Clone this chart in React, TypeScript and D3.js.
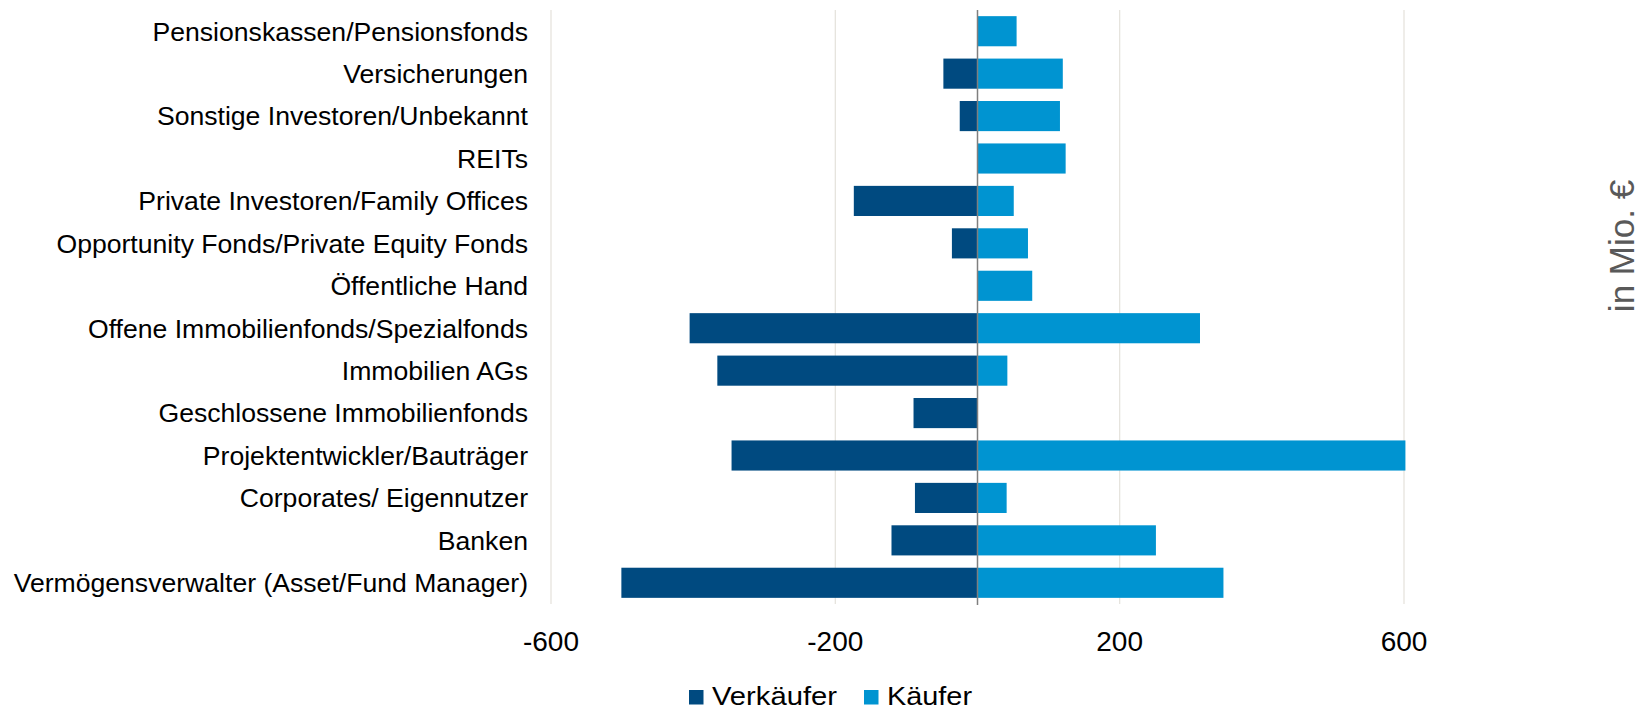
import React from "react";
import {scaleBand, scaleLinear} from "d3";

const width = 1639;
const height = 709;

const categories = [
    "Pensionskassen/Pensionsfonds",
    "Versicherungen",
    "Sonstige Investoren/Unbekannt",
    "REITs",
    "Private Investoren/Family Offices",
    "Opportunity Fonds/Private Equity Fonds",
    "Öffentliche Hand",
    "Offene Immobilienfonds/Spezialfonds",
    "Immobilien AGs",
    "Geschlossene Immobilienfonds",
    "Projektentwickler/Bauträger",
    "Corporates/ Eigennutzer",
    "Banken",
    "Vermögensverwalter (Asset/Fund Manager)",
];

// Verkäufer (negative) und Käufer (positive), in Mio. €
const verkaeufer = [0, -48, -25, 0, -174, -36, 0, -405, -366, -90, -346, -88, -121, -501];
const kaeufer = [55, 120, 116, 124, 51, 71, 77, 313, 42, 0, 602, 41, 251, 346];

const ticks = [-600, -200, 200, 600];
const seriesNames = ["Verkäufer", "Käufer"];
const colors = ["#004A80", "#0094D1"];

const left = 551;
const right = 1404;
const top = 10;
const bottom = 604;

function App() {
    const x = scaleLinear().domain([-600, 600]).range([left, right]);
    const y = scaleBand().domain(categories).range([top, bottom]).paddingInner(0.29).paddingOuter(0.145);
    const font = "'Liberation Sans', Arial, sans-serif";
    // legend: square x, text x, text length
    const legend = [[689, 712, 125], [864, 887, 85]];

    return (
        <div>
            <style>{"body{margin:0}"}</style>
            <svg width={width} height={height} style={{display: "block", fontFamily: font}}>
                {ticks.map(t => (
                    <line key={t} x1={x(t)} x2={x(t)} y1={top} y2={bottom} stroke="#E6E4DE" strokeWidth={1.3}/>
                ))}
                {categories.map((c, i) => (
                    <g key={c}>
                        {verkaeufer[i] !== 0 &&
                            <rect x={x(verkaeufer[i])} y={y(c)} width={x(0) - x(verkaeufer[i])}
                                  height={y.bandwidth()} fill={colors[0]}/>}
                        {kaeufer[i] !== 0 &&
                            <rect x={x(0)} y={y(c)} width={x(kaeufer[i]) - x(0)}
                                  height={y.bandwidth()} fill={colors[1]}/>}
                        <text x={left - 23} y={y(c) + y.bandwidth() / 2} dy="0.35em" textAnchor="end"
                              fontSize={26.6} fill="#000">{c}</text>
                    </g>
                ))}
                <line x1={x(0)} x2={x(0)} y1={top} y2={bottom + 1} stroke="#7F7F7F" strokeWidth={1.5}/>
                {ticks.map(t => (
                    <text key={t} x={x(t)} y={651} textAnchor="middle" fontSize={28} fill="#000">{t}</text>
                ))}
                {seriesNames.map((s, i) => (
                    <g key={s}>
                        <rect x={legend[i][0]} y={690} width={14.5} height={14.5} fill={colors[i]}/>
                        <text x={legend[i][1]} y={705} fontSize={26} fill="#000"
                              textLength={legend[i][2]} lengthAdjust="spacingAndGlyphs">{s}</text>
                    </g>
                ))}
                <text transform="translate(1634,246) rotate(-90)" textAnchor="middle" fontSize={35}
                      fill="#595959">in Mio. €</text>
            </svg>
        </div>
    );
}

export default App;
